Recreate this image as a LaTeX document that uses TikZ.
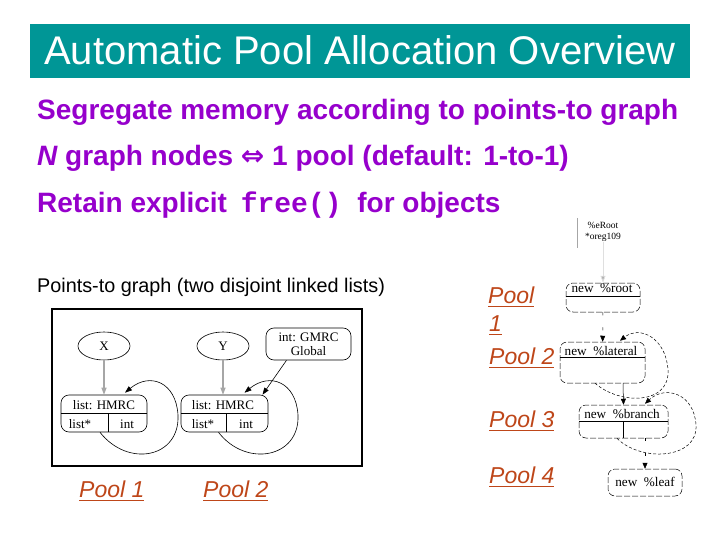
\documentclass[tikz,border=0pt]{standalone}
\usepackage{fontspec}
\setmainfont{Liberation Sans}
\newfontfamily\serifrm{Liberation Serif}
\newfontfamily\monott{Liberation Mono}
\newfontfamily\dejavu{DejaVu Sans}
\usetikzlibrary{shapes.geometric,arrows.meta}
\definecolor{titleteal}{RGB}{0,150,150}
\definecolor{bodypurple}{RGB}{150,0,204}
\definecolor{poolred}{RGB}{190,70,25}
\newcommand\poolul[1]{\setbox0\hbox{#1}\rlap{\raisebox{-4pt}{\rule{\wd0}{1.3pt}}}\box0}
\begin{document}
\begin{tikzpicture}[x=1pt,y=-1pt,
  bullet/.style={anchor=base west, inner sep=0, text=bodypurple, font=\bfseries\fontsize{28}{30}\selectfont},
  gshape/.style={draw, line width=0.6pt, inner sep=0},
  gell/.style={gshape, ellipse, minimum width=52pt, minimum height=28pt, font=\serifrm\fontsize{13}{14}\selectfont},
  grec/.style={gshape, rounded corners=8pt},
  gtext/.style={font=\serifrm\fontsize{13}{14}\selectfont, inner sep=0, anchor=base},
  garrow/.style={-{Triangle[length=7pt,width=5pt]}, line width=0.6pt},
  grayarrow/.style={-{Triangle[length=7pt,width=5pt]}, draw=gray!70, fill=gray!70, line width=1.1pt},
  rrec/.style={draw, line width=0.5pt, dash pattern=on 6pt off 2pt, rounded corners=7pt, inner sep=0},
  rtext/.style={font=\serifrm\fontsize{13.2}{14}\selectfont, inner sep=0, anchor=base},
  rarrow/.style={-{Triangle[length=6pt,width=5pt]}, line width=0.5pt},
  rloop/.style={rarrow, dash pattern=on 3pt off 2pt},
  poollbl/.style={text=poolred, font=\itshape\fontsize{23}{28}\selectfont, anchor=base west, inner sep=0, align=left},
]
\useasboundingbox (0,0) rectangle (720,540);
% title
\node[fill=titleteal, minimum width=660pt, minimum height=54pt, inner sep=0] (titlebar) at (360,51) {};
\node[anchor=base, inner sep=0, text=white, font=\fontsize{40}{44}\selectfont] (title) at (360,65) {Automatic Pool Allocation Overview};
% bullets
\node[bullet] (l1) at (37,120) {Segregate memory according to points-to graph};
\node[bullet] (l2) at (37,166) {{\itshape N} graph nodes {\dejavu\bfseries ⇔} 1 pool (default: 1-to-1)};
\node[bullet] (l3) at (37,212) {Retain explicit\hspace{6pt} {\monott\bfseries free()}\hspace{8pt} for objects};
% points-to graph
\node[anchor=base west, inner sep=0, font=\fontsize{19.8}{22}\selectfont] (ptlabel) at (37,292) {Points-to graph (two disjoint linked lists)};
\node[draw, line width=1.6pt, minimum width=310pt, minimum height=157pt, inner sep=0] (frame) at (207,387.5) {};
\node[gell] (X) at (104,346) {X};
\node[gell] (Y) at (223,346) {Y};
\node[grec, minimum width=85pt, minimum height=32pt, align=center, font=\serifrm\fontsize{13}{14}\selectfont] (gmrc) at (308.5,344) {int: GMRC\\Global};
\node[grec, minimum width=86pt, minimum height=37pt] (rec1) at (104,413.5) {};
\node[grec, minimum width=87pt, minimum height=37pt] (rec2) at (224.5,413.5) {};
\draw[line width=0.6pt] (rec1.west) -- (rec1.east);
\draw[line width=0.6pt] ([xshift=4pt]rec1.center) -- ([xshift=4pt]rec1.south);
\draw[line width=0.6pt] (rec2.west) -- (rec2.east);
\draw[line width=0.6pt] ([xshift=1.5pt]rec2.center) -- ([xshift=1.5pt]rec2.south);
\node[gtext] (r1top) at (104,409) {list: HMRC};
\node[gtext] (r1a) at (80,428) {list*};
\node[gtext] (r1b) at (127,428) {int};
\node[gtext] (r2top) at (223,409) {list: HMRC};
\node[gtext] (r2a) at (203,428) {list*};
\node[gtext] (r2b) at (246,428) {int};
\draw[grayarrow] (X) -- (rec1);
\draw[grayarrow] (Y) -- ([xshift=-1.5pt]rec2.north);
\draw[garrow] ([xshift=-22pt]gmrc.south) -- ([xshift=38pt]rec2.north);
\draw[garrow] ([xshift=-4pt]rec1.south) .. controls (128,468) and (180,458) .. (178,415)
   .. controls (176,382) and (150,372) .. ([xshift=21pt,yshift=2pt]rec1.north);
\draw[garrow] ([xshift=-6pt]rec2.south) .. controls (246,468) and (300,458) .. (298,415)
   .. controls (296,382) and (270,372) .. ([xshift=20pt,yshift=2pt]rec2.north);
% pool labels (left)
\node[poollbl] (p1) at (79,497) {\poolul{Pool 1}};
\node[poollbl] (p2) at (203,497) {\poolul{Pool 2}};
% pool labels (right)
\node[poollbl] (rp1a) at (488,303) {\poolul{Pool}};
\node[poollbl] (rp1b) at (489,331) {\poolul{1}};
\node[poollbl] (rp2) at (489,364) {\poolul{Pool 2}};
\node[poollbl] (rp3) at (489,427) {\poolul{Pool 3}};
\node[poollbl] (rp4) at (489,483) {\poolul{Pool 4}};
% right figure
\node[align=center, inner sep=0, font=\serifrm\fontsize{9.5}{11}\selectfont] (rootlbl) at (603,232) {\%eRoot\\*oreg109};
\draw[gray!70, line width=0.6pt] (577,218) -- (577,248);
\node[rrec, minimum width=74pt, minimum height=29pt] (root) at (603,297.5) {};
\draw[line width=0.5pt] ([yshift=1.5pt]root.west) -- ([yshift=1.5pt]root.east);
\node[rtext] (roott) at (602,292) {new\ \ \%root};
\node[rrec, minimum width=85pt, minimum height=41pt] (lat) at (602.5,362.5) {};
\draw[line width=0.5pt] ([yshift=5.5pt]lat.west) -- ([yshift=5.5pt]lat.east);
\node[rtext] (latt) at (601,355) {new\ \ \%lateral};
\node[rrec, minimum width=89pt, minimum height=33pt] (br) at (623.5,421.5) {};
\draw[line width=0.5pt] (br.west) -- (br.east);
\draw[line width=0.5pt] (br.center) -- (br.south);
\node[rtext] (brt) at (622,418) {new\ \ \%branch};
\node[rrec, minimum width=74pt, minimum height=27pt] (leaf) at (645,482.5) {};
\node[rtext] (leaft) at (645,486) {new\ \ \%leaf};
\draw[rarrow, draw=gray!25, line width=0.8pt, -{Triangle[length=7pt,width=5pt,fill=gray!60]}] (rootlbl) -- (root);
\draw[rarrow, dash pattern=on 3pt off 12pt] (root) -- (lat);
\draw[rarrow] ([xshift=20.5pt]lat.south) -- (br.north);
\draw[rarrow, dash pattern=on 3pt off 12pt] ([xshift=21.5pt]br.south) -- (leaf.north);
\draw[rloop] ([xshift=-7.5pt]lat.south) .. controls (620,405) and (670,405) .. (668,370)
   .. controls (666,338) and (640,325) .. ([xshift=17.5pt,yshift=1pt]lat.north);
\draw[rloop] ([xshift=-6.5pt]br.south) .. controls (640,462) and (698,460) .. (696,425)
   .. controls (694,393) and (665,385) .. ([xshift=21.5pt,yshift=1pt]br.north);
\end{tikzpicture}
\end{document}
